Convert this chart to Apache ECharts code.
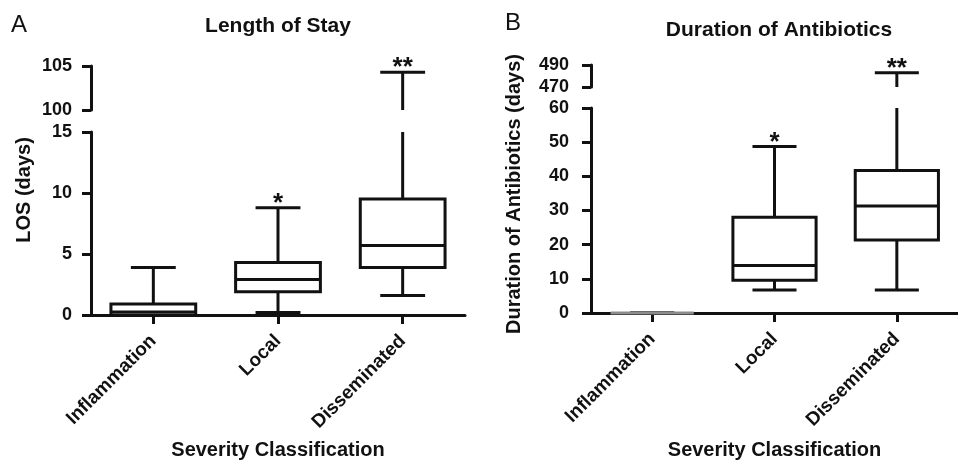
<!DOCTYPE html>
<html>
<head>
<meta charset="utf-8">
<script src="https://cdn.jsdelivr.net/npm/echarts@6/dist/echarts.min.js"></script>
<style>html,body{margin:0;padding:0;background:#fff}#c{width:958px;height:461px}</style>
</head>
<body>
<div id="c"></div>
<script>
// ---------- data ----------
const categories = ['Inflammation', 'Local', 'Disseminated'];
// box statistics: [min, Q1, median, Q3, max]
const losStats = [[0, 0, 0.25, 0.9, 3.9], [0.2, 1.9, 2.9, 4.3, 8.8], [1.6, 3.9, 5.7, 9.5, 104.3]];
const abxStats = [[0, 0, 0, 0, 0], [6.7, 9.6, 13.9, 28.0, 48.7], [6.7, 21.4, 31.3, 41.7, 482.9]];
const losSig = ['', '*', '**'];
const abxSig = ['', '*', '**'];
const losTicksLow = [0, 5, 10, 15];
const losTicksHigh = [100, 105];
const abxTicksLow = [0, 10, 20, 30, 40, 50, 60];
const abxTicksHigh = [470, 490];

// ---------- chart ----------
const FONT = '"Liberation Sans", Arial, Helvetica, sans-serif';
const INK = '#111';
const chart = echarts.init(document.getElementById('c'), null, {renderer: 'canvas'});

function makeRender(lo, hi, sig) {
  return function (params, api) {
    const i = api.value(0);
    const mn = api.value(1), q1 = api.value(2), md = api.value(3), q3 = api.value(4), mx = api.value(5);
    const cl = v => Math.min(Math.max(v, lo), hi);
    const inR = v => v >= lo && v <= hi;
    const X = api.coord([i, lo])[0];
    const Y = v => api.coord([i, cl(v)])[1];
    const band = api.size([1, 0])[0];
    const bw = band * 0.68, cw = band * 0.36;
    const st = {stroke: INK, lineWidth: 3, fill: null};
    const ch = [];
    const line = (x1, y1, x2, y2) => ch.push({type: 'line', shape: {x1, y1, x2, y2}, style: st});
    if (q1 >= lo && mn <= hi && q1 > mn) line(X, Y(mn), X, Y(q1));
    if (mx >= lo && q3 <= hi && mx > q3) line(X, Y(q3), X, Y(mx));
    if (inR(mn)) line(X - cw / 2, Y(mn), X + cw / 2, Y(mn));
    if (inR(mx)) line(X - cw / 2, Y(mx), X + cw / 2, Y(mx));
    if (q3 >= lo && q1 <= hi) {
      const flat = q3 === q1;
      ch.push({type: 'rect', shape: {x: X - bw / 2, y: Y(q3), width: bw, height: Y(q1) - Y(q3)},
        style: {stroke: flat ? '#8c8c8c' : INK, lineWidth: 3, fill: flat ? null : '#fff'}});
      if (!flat && inR(md)) line(X - bw / 2, Y(md), X + bw / 2, Y(md));
    }
    const s = sig[params.dataIndex];
    if (s && inR(mx)) {
      ch.push({type: 'text', style: {text: s, x: X, y: Y(mx) - 4, align: 'center', verticalAlign: 'middle',
        font: 'bold 26px ' + FONT, fill: INK}});
    }
    return {type: 'group', children: ch};
  };
}

function yAx(gi, ticks, margin) {
  return {
    type: 'value', gridIndex: gi, min: ticks[0], max: ticks[ticks.length - 1],
    splitLine: {show: false},
    axisLine: {show: true, lineStyle: {color: INK, width: 3}},
    axisTick: {show: true, length: 9, lineStyle: {color: INK, width: 3}, customValues: ticks},
    axisLabel: {customValues: ticks, margin: margin, color: INK, fontSize: 18, fontWeight: 'bold', fontFamily: FONT}
  };
}
function xAx(gi, visible, gap) {
  if (!visible) return {type: 'category', gridIndex: gi, data: categories, show: false};
  return {
    type: 'category', gridIndex: gi, data: categories,
    axisLine: {show: true, lineStyle: {color: INK, width: 3}},
    axisTick: {show: true, alignWithLabel: true, length: 9, lineStyle: {color: INK, width: 3}},
    axisLabel: {interval: 0, rotate: 45, margin: 23, color: INK, fontSize: 19, fontWeight: 'bold', fontFamily: FONT},
    name: 'Severity Classification', nameLocation: 'middle', nameGap: gap,
    nameTextStyle: {color: INK, fontSize: 20, fontWeight: 'bold', fontFamily: FONT}
  };
}
function ser(xi, stats, lo, hi, sig) {
  return {
    type: 'custom', xAxisIndex: xi, yAxisIndex: xi,
    data: stats.map((s, i) => [i].concat(s)),
    encode: {x: 0, y: [1, 2, 3, 4, 5]},
    renderItem: makeRender(lo, hi, sig), silent: true
  };
}

const option = {
  animation: false,
  backgroundColor: '#fff',
  title: [
    {text: 'A', left: 11, top: 13, padding: 0, textStyle: {color: INK, fontSize: 24, fontWeight: 'normal', fontFamily: FONT}},
    {text: 'Length of Stay', left: 278, top: 16, padding: 0, textAlign: 'center', textStyle: {color: INK, fontSize: 21, fontWeight: 'bold', fontFamily: FONT}},
    {text: 'B', left: 505, top: 11, padding: 0, textStyle: {color: INK, fontSize: 24, fontWeight: 'normal', fontFamily: FONT}},
    {text: 'Duration of Antibiotics', left: 779, top: 20, padding: 0, textAlign: 'center', textStyle: {color: INK, fontSize: 21, fontWeight: 'bold', fontFamily: FONT}}
  ],
  grid: [
    {left: 91, top: 66, width: 374, height: 44},
    {left: 91, top: 132, width: 374, height: 183},
    {left: 591, top: 65, width: 378, height: 22},
    {left: 591, top: 108, width: 378, height: 209}
  ],
  xAxis: [xAx(0, false), xAx(1, true, 125), xAx(2, false), xAx(3, true, 127)],
  yAxis: [yAx(0, losTicksHigh, 19), yAx(1, losTicksLow, 19), yAx(2, abxTicksHigh, 22), yAx(3, abxTicksLow, 22)],
  graphic: [
    {type: 'text', x: 24, y: 190, rotation: Math.PI / 2,
      style: {text: 'LOS (days)', align: 'center', verticalAlign: 'middle', font: 'bold 20px ' + FONT, fill: INK}},
    {type: 'text', x: 514, y: 194, rotation: Math.PI / 2,
      style: {text: 'Duration of Antibiotics (days)', align: 'center', verticalAlign: 'middle', font: 'bold 20px ' + FONT, fill: INK}}
  ],
  series: [
    ser(0, losStats, losTicksHigh[0], losTicksHigh[1], losSig),
    ser(1, losStats, losTicksLow[0], losTicksLow[losTicksLow.length - 1], losSig),
    ser(2, abxStats, abxTicksHigh[0], abxTicksHigh[1], abxSig),
    ser(3, abxStats, abxTicksLow[0], abxTicksLow[abxTicksLow.length - 1], abxSig)
  ]
};
chart.setOption(option);
</script>
</body>
</html>
